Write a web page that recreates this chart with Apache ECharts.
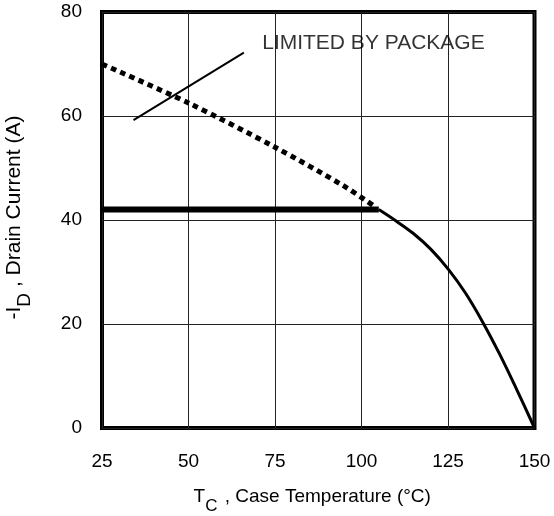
<!DOCTYPE html>
<html>
<head>
<meta charset="utf-8">
<script src="https://cdn.jsdelivr.net/npm/echarts@6/dist/echarts.min.js"></script>
<style>
html,body{margin:0;padding:0;background:#fff;}
#chart{width:554px;height:516px;}
</style>
</head>
<body>
<div id="chart"></div>
<script>
// ---- data ----
const xTicks = [25, 50, 75, 100, 125, 150];
const yTicks = [0, 20, 40, 60, 80];
// package-limited flat segment
const packageLimit = [[25, 42], [105, 42]];
// silicon-limited curve (solid part)
const siliconCurve = [[105, 42], [110, 39.8], [115, 37.4], [120, 34.4], [125, 30.6],
  [130, 26.0], [135, 20.4], [140, 14.1], [145, 7.2], [150, 0]];
// silicon-limited curve (dotted part, below 105 °C)
const siliconDotted = [[25, 70], [50, 62.5], [75, 54], [95, 46.5], [104, 42.5]];
// annotation pointer line
const pointerLine = [[34.1, 59.2], [66.0, 72.2]];
const annotationText = 'LIMITED BY PACKAGE';
const annotationPos = [71.3, 74];

const FONT = 'Liberation Sans, Arial, sans-serif';
const chart = echarts.init(document.getElementById('chart'), null, {renderer: 'canvas'});
chart.setOption({
  animation: false,
  backgroundColor: '#fff',
  grid: {left: 102, right: 19.5, top: 12, bottom: 88, show: true, borderWidth: 4, borderColor: '#000',
    backgroundColor: 'transparent', containLabel: false, outerBoundsMode: 'none'},
  xAxis: {
    type: 'value', min: xTicks[0], max: xTicks[xTicks.length - 1], interval: 25,
    axisLine: {show: false}, axisTick: {show: false},
    splitLine: {show: true, lineStyle: {color: '#222', width: 1}},
    axisLabel: {fontFamily: FONT, fontSize: 19, color: '#000', margin: 24},
    name: '{m|T}{s|C}{m| , Case Temperature (°C)}',
    nameLocation: 'middle', nameGap: 59,
    nameTextStyle: {
      padding: [0, 12, 0, 0],
      rich: {
        m: {fontFamily: FONT, fontSize: 19, color: '#000', lineHeight: 28, verticalAlign: 'top'},
        s: {fontFamily: FONT, fontSize: 17, color: '#000', lineHeight: 17, verticalAlign: 'bottom', padding: [0, 2, 0, 0]}
      }
    }
  },
  yAxis: {
    type: 'value', min: yTicks[0], max: yTicks[yTicks.length - 1], interval: 20,
    axisLine: {show: false}, axisTick: {show: false},
    splitLine: {show: true, lineStyle: {color: '#222', width: 1}},
    axisLabel: {fontFamily: FONT, fontSize: 19, color: '#000', margin: 20},
    name: '{m|-I}{s|D}{m| , Drain Current (A)}',
    nameLocation: 'middle', nameGap: 68,
    nameTextStyle: {
      padding: [0, 0, 0, 5],
      rich: {
        m: {fontFamily: FONT, fontSize: 21, color: '#000', lineHeight: 30, verticalAlign: 'top'},
        s: {fontFamily: FONT, fontSize: 19, color: '#000', lineHeight: 19, verticalAlign: 'bottom'}
      }
    }
  },
  series: [
    {type: 'line', data: siliconDotted, smooth: 0.3, symbol: 'none', z: 3,
      lineStyle: {color: '#000', width: 5, type: [5.5, 4.5], cap: 'butt'}},
    {type: 'line', data: packageLimit, symbol: 'none', z: 4,
      lineStyle: {color: '#000', width: 6, cap: 'butt'}},
    {type: 'line', data: siliconCurve, smooth: 0.35, symbol: 'none', z: 4,
      lineStyle: {color: '#000', width: 3}},
    {type: 'line', data: pointerLine, symbol: 'none', z: 4,
      lineStyle: {color: '#000', width: 2}},
    {type: 'scatter', data: [annotationPos], symbolSize: 0, z: 5,
      label: {show: true, position: 'right', distance: 0, formatter: annotationText,
        fontFamily: FONT, fontSize: 21, color: '#000', align: 'left', verticalAlign: 'middle'}}
  ]
});
</script>
</body>
</html>
